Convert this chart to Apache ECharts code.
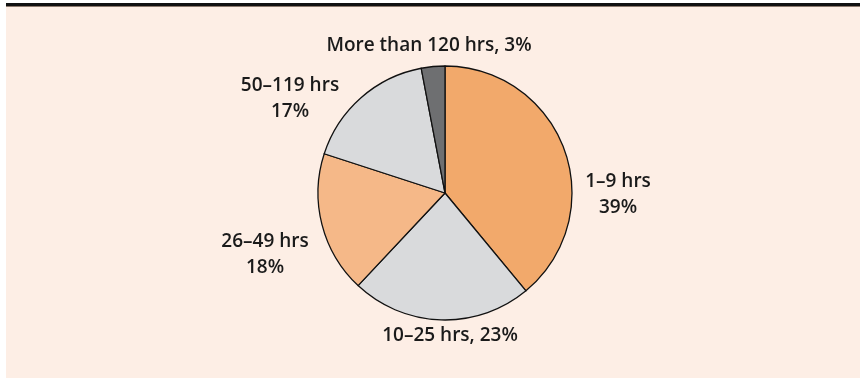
<!DOCTYPE html>
<html>
<head>
<meta charset="utf-8">
<script src="https://cdn.jsdelivr.net/npm/echarts@6/dist/echarts.min.js"></script>
<style>
  html, body { margin: 0; padding: 0; background: #ffffff; }
  #chart { width: 862px; height: 378px; }
</style>
</head>
<body>
<div id="chart"></div>
<script>
// Share of users by hours spent
const categories = ['1–9 hrs', '10–25 hrs', '26–49 hrs', '50–119 hrs', 'More than 120 hrs'];
const shares = [39, 23, 18, 17, 3];
const sliceColors = ['#F2A96B', '#D9DADC', '#F5B888', '#D9DADC', '#6E6F71'];
// two-line labels vs. single-line labels
const labelTwoLine = [true, false, true, true, false];
// label anchor points (px) for each slice's text
const labelAnchors = [[618, 195], [450, 336], [265, 255], [290, 99], [429, 46]];

const chart = echarts.init(document.getElementById('chart'), null, { renderer: 'canvas' });

chart.setOption({
  animation: false,
  graphic: [
    { type: 'rect', shape: { x: 6, y: 3, width: 854, height: 375 }, style: { fill: '#FDEEE5' }, silent: true, z: -10 },
    { type: 'rect', shape: { x: 6, y: 3, width: 854, height: 3 }, style: { fill: '#111111' }, silent: true, z: -9 },
    { type: 'rect', shape: { x: 6, y: 6, width: 854, height: 1 }, style: { fill: '#8C7A6E' }, silent: true, z: -9 }
  ],
  series: [{
    type: 'pie',
    center: [445, 193],
    radius: [0, 127],
    startAngle: 90,
    clockwise: true,
    data: categories.map((name, i) => ({
      name,
      value: shares[i],
      itemStyle: { color: sliceColors[i] }
    })),
    itemStyle: { borderColor: '#111111', borderWidth: 1.3 },
    label: {
      show: true,
      position: 'outside',
      fontFamily: 'Open Sans',
      fontWeight: 600,
      fontSize: 19,
      lineHeight: 26,
      color: '#1a1a1a',
      align: 'center',
      formatter: p => labelTwoLine[p.dataIndex] ? p.name + '\n' + p.value + '%' : p.name + ', ' + p.value + '%'
    },
    labelLine: { show: false },
    labelLayout: p => ({
      x: labelAnchors[p.dataIndex][0],
      y: labelAnchors[p.dataIndex][1],
      align: 'center',
      verticalAlign: 'middle'
    })
  }]
});
</script>
</body>
</html>
